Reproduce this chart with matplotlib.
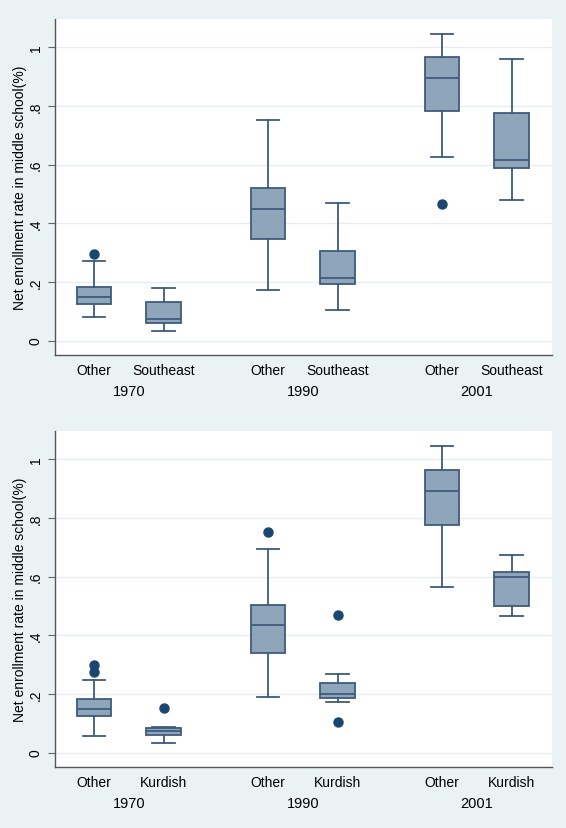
import matplotlib
matplotlib.use("Agg")
import matplotlib.pyplot as plt

plt.rcParams['font.family'] = ['Liberation Sans', 'DejaVu Sans']

years = ["1970", "1990", "2001"]
groups_top = ["Other", "Southeast"]
groups_bot = ["Other", "Kurdish"]

# box stats: whislo, q1, med, q3, whishi, outliers
# order: 1970 Other, 1970 group, 1990 Other, 1990 group, 2001 Other, 2001 group
top_whislo = [0.080, 0.032, 0.172, 0.105, 0.624, 0.478]
top_q1 = [0.124, 0.060, 0.345, 0.192, 0.782, 0.589]
top_med = [0.148, 0.074, 0.449, 0.213, 0.896, 0.617]
top_q3 = [0.184, 0.133, 0.521, 0.307, 0.966, 0.775]
top_whishi = [0.272, 0.178, 0.753, 0.468, 1.046, 0.960]
top_fliers = [[0.295], [], [], [], [0.467], []]

bot_whislo = [0.056, 0.032, 0.189, 0.172, 0.566, 0.467]
bot_q1 = [0.124, 0.059, 0.339, 0.186, 0.776, 0.501]
bot_med = [0.148, 0.073, 0.436, 0.199, 0.890, 0.597]
bot_q3 = [0.182, 0.084, 0.502, 0.236, 0.963, 0.616]
bot_whishi = [0.249, 0.086, 0.695, 0.267, 1.045, 0.672]
bot_fliers = [[0.298, 0.273], [0.152], [0.752], [0.468, 0.105], [], []]

positions = [0, 1, 2.5, 3.5, 5, 6]
bg = "#eaf2f3"
line_col = "#3e5b7c"
fill_col = "#8fa5ba"
dot_col = "#1a476f"


def make_stats(lo, q1, med, q3, hi, fl):
    stats = []
    for i in range(len(lo)):
        stats.append({"whislo": lo[i], "q1": q1[i], "med": med[i],
                      "q3": q3[i], "whishi": hi[i], "fliers": fl[i]})
    return stats


def draw_panel(ax, stats, groups):
    ax.set_facecolor("white")
    ax.bxp(stats, positions=positions, widths=0.5, patch_artist=True,
           boxprops=dict(facecolor=fill_col, edgecolor=line_col, linewidth=1.3),
           medianprops=dict(color=line_col, linewidth=1.3),
           whiskerprops=dict(color=line_col, linewidth=1.3),
           capprops=dict(color=line_col, linewidth=1.3),
           capwidths=0.33,
           flierprops=dict(marker="o", markerfacecolor=dot_col,
                           markeredgecolor=dot_col, markersize=6.5))
    ax.set_xlim(-0.56, 6.58)
    ax.set_ylim(-0.049, 1.096)
    ax.set_yticks([0, 0.2, 0.4, 0.6, 0.8, 1.0])
    ax.set_yticklabels(["0", ".2", ".4", ".6", ".8", "1"], rotation=90,
                       va="center", fontsize=10)
    ax.grid(axis="y", color="#e6eef0", linewidth=1)
    ax.set_axisbelow(True)
    ax.tick_params(axis="y", direction="out", length=5, color="#666666", pad=4)
    ax.tick_params(axis="x", length=0, pad=6)
    ax.set_xticks(positions)
    ax.set_xticklabels(groups * 3, fontsize=10)
    for side in ["top", "right"]:
        ax.spines[side].set_visible(False)
    for side in ["left", "bottom"]:
        ax.spines[side].set_color("#555555")
        ax.spines[side].set_linewidth(1)
    ax.set_ylabel("Net enrollment rate in middle school(%)", fontsize=10,
                  labelpad=1)
    for i, yr in enumerate(years):
        xc = (positions[2 * i] + positions[2 * i + 1]) / 2
        ax.annotate(yr, xy=(xc, 0), xycoords=("data", "axes fraction"),
                    xytext=(0, -21), textcoords="offset points",
                    ha="center", va="top", fontsize=10.5)


fig = plt.figure(figsize=(5.66, 8.29), dpi=100)
fig.patch.set_facecolor(bg)

ax1 = fig.add_axes([0.0972, 0.5706, 0.878, 0.4053])
draw_panel(ax1, make_stats(top_whislo, top_q1, top_med, top_q3, top_whishi, top_fliers), groups_top)

ax2 = fig.add_axes([0.0972, 0.0736, 0.878, 0.4053])
draw_panel(ax2, make_stats(bot_whislo, bot_q1, bot_med, bot_q3, bot_whishi, bot_fliers), groups_bot)

fig.savefig("out.png", dpi=100, facecolor=bg)
